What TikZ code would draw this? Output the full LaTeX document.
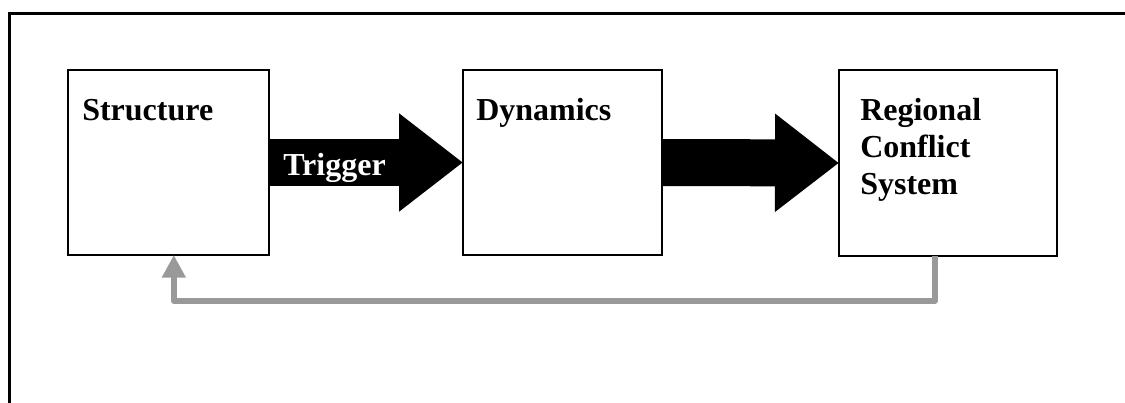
\documentclass[tikz,border=0pt]{standalone}
\usepackage{fontspec}
\setmainfont{Liberation Serif}
\usepackage{tikz}
\usetikzlibrary{arrows.meta}
\tikzset{
    box/.style={draw, line width=1.5pt, inner sep=0pt, outer sep=0pt},
    lbl/.style={font=\fontsize{24}{27.4}\selectfont\bfseries, inner sep=0pt, align=left},
    bigarrow/.style={line width=35.25pt, -{Triangle[length=48pt, width=70.5pt]}},
    feedback/.style={draw=black!40, line width=4.5pt, line join=round, -{Triangle[length=17pt, width=17pt]}}}

\begin{document}
\begin{tikzpicture}[x=0.75pt, y=-0.75pt]

        \useasboundingbox (0,0) rectangle (1125,403);
        \draw[line width=2.25pt] (9,403) -- (9,13.5) -- (1125,13.5);

            \node[box, minimum width=150.75pt, minimum height=138.75pt] (struct) at (168.5,162.5) {};
            \node[box, minimum width=149.25pt, minimum height=138.75pt] (dyn) at (562.5,162.5) {};
            \node[box, minimum width=163.5pt, minimum height=139.5pt] (rcs) at (948,163) {};

            \node[lbl, anchor=base west] (structtxt) at (82,121) {Structure};
            \node[lbl, anchor=base west] (dyntxt) at (476,121) {Dynamics};
            \node[lbl, anchor=north west] (rcstxt) at (860,98.5) {Regional\\Conflict\\System};

            \draw[bigarrow] (struct.east) -- (dyn.west);
            \draw[bigarrow] (dyn.east) -- (rcs.west);
            \node[lbl, anchor=base west, white] (trig) at ([shift={(14,12.5)}]struct.east) {Trigger};

            \draw[feedback] ([xshift=-10]rcs.south) -- ++(0,45) -| ([xshift=4]struct.south);

\end{tikzpicture}
\end{document}
